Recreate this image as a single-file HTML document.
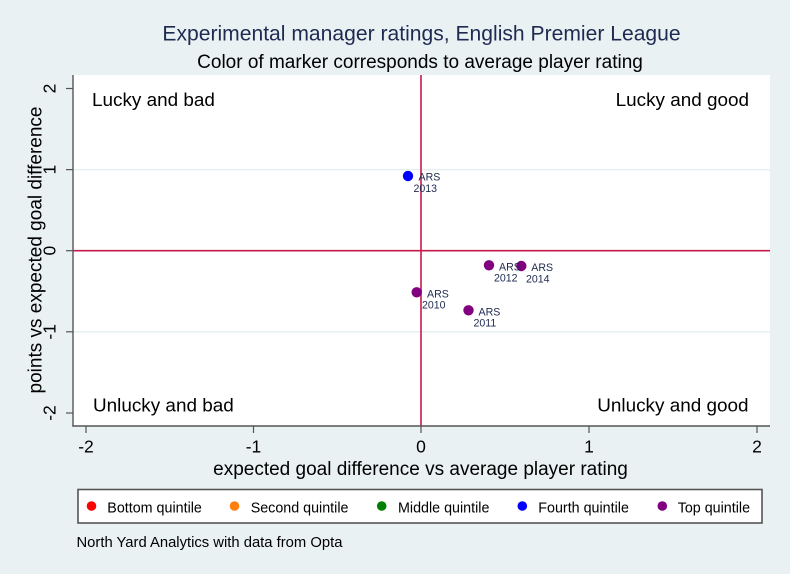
<!DOCTYPE html>
<html><head><meta charset="utf-8"><style>
html,body{margin:0;padding:0;background:#e9f1f3;}
svg{display:block;font-family:"Liberation Sans",Arial,sans-serif;}
text{font-family:"Liberation Sans",Arial,sans-serif;}
</style></head><body>
<svg width="790" height="574" viewBox="0 0 790 574" xmlns="http://www.w3.org/2000/svg">
<rect x="0" y="0" width="790" height="574" fill="#e9f1f3"/>
<!-- titles -->
<text x="421.5" y="40.5" text-anchor="middle" font-size="21.1" fill="#1e2a50">Experimental manager ratings, English Premier League</text>
<text x="420" y="68" text-anchor="middle" font-size="19" fill="#000">Color of marker corresponds to average player rating</text>
<!-- plot region -->
<rect x="73" y="75" width="697" height="351" fill="#fff"/>
<!-- gridlines -->
<line x1="73" y1="169.6" x2="770" y2="169.6" stroke="#e6eff1" stroke-width="1.5"/>
<line x1="73" y1="331.8" x2="770" y2="331.8" stroke="#e6eff1" stroke-width="1.5"/>
<!-- reference lines -->
<line x1="73" y1="250.7" x2="770" y2="250.7" stroke="#c8194b" stroke-width="1.6"/>
<line x1="421" y1="75" x2="421" y2="426" stroke="#c8194b" stroke-width="1.6"/>
<!-- axes -->
<line x1="73" y1="75" x2="73" y2="426.5" stroke="#555" stroke-width="1.4"/>
<line x1="72.3" y1="426" x2="770" y2="426" stroke="#555" stroke-width="1.4"/>
<!-- y ticks -->
<g stroke="#555" stroke-width="1.2">
<line x1="66" y1="88.5" x2="73" y2="88.5"/>
<line x1="66" y1="169.6" x2="73" y2="169.6"/>
<line x1="66" y1="250.7" x2="73" y2="250.7"/>
<line x1="66" y1="331.8" x2="73" y2="331.8"/>
<line x1="66" y1="413" x2="73" y2="413"/>
</g>
<g font-size="17.5" fill="#000" text-anchor="middle">
<text transform="translate(55.5,88.5) rotate(-90)">2</text>
<text transform="translate(55.5,169.6) rotate(-90)">1</text>
<text transform="translate(55.5,250.7) rotate(-90)">0</text>
<text transform="translate(55.5,331.8) rotate(-90)">-1</text>
<text transform="translate(55.5,413) rotate(-90)">-2</text>
</g>
<text transform="translate(41.5,250) rotate(-90)" text-anchor="middle" font-size="19" fill="#000">points vs expected goal difference</text>
<!-- x ticks -->
<g stroke="#555" stroke-width="1.2">
<line x1="86" y1="426" x2="86" y2="433"/>
<line x1="253.5" y1="426" x2="253.5" y2="433"/>
<line x1="421" y1="426" x2="421" y2="433"/>
<line x1="589" y1="426" x2="589" y2="433"/>
<line x1="757" y1="426" x2="757" y2="433"/>
</g>
<g font-size="17.5" fill="#000" text-anchor="middle">
<text x="86" y="452.5">-2</text>
<text x="253.5" y="452.5">-1</text>
<text x="421" y="452.5">0</text>
<text x="589" y="452.5">1</text>
<text x="757" y="452.5">2</text>
</g>
<text x="420.5" y="475" text-anchor="middle" font-size="19" fill="#000">expected goal difference vs average player rating</text>
<!-- quadrant labels -->
<g font-size="18.9" fill="#000">
<text x="92" y="106">Lucky and bad</text>
<text x="749" y="106" text-anchor="end">Lucky and good</text>
<text x="93" y="411.5">Unlucky and bad</text>
<text x="748.5" y="411.5" text-anchor="end">Unlucky and good</text>
</g>
<!-- points -->
<circle cx="408" cy="176" r="5.2" fill="#0000ff"/>
<circle cx="489" cy="265.3" r="5.2" fill="#800080"/>
<circle cx="521.3" cy="266" r="5.2" fill="#800080"/>
<circle cx="416.7" cy="292.3" r="5.2" fill="#800080"/>
<circle cx="468.5" cy="310.3" r="5.2" fill="#800080"/>
<g font-size="10.6" fill="#1e2a50" font-family="Liberation Sans, Arial, sans-serif">
<text x="418.5" y="180.7">ARS</text><text x="413.5" y="192.2">2013</text>
<text x="499" y="270.3">ARS</text><text x="494" y="281.7">2012</text>
<text x="531.3" y="271">ARS</text><text x="526" y="282.3">2014</text>
<text x="427" y="297.3">ARS</text><text x="422" y="308.7">2010</text>
<text x="478.5" y="315.3">ARS</text><text x="473.5" y="326.7">2011</text>
</g>
<!-- legend -->
<rect x="78" y="489.5" width="684" height="33.5" fill="#fff" stroke="#555" stroke-width="1.6"/>
<circle cx="91.5" cy="506" r="4.8" fill="#ff0000"/>
<circle cx="234.5" cy="506" r="4.8" fill="#ff7f0e"/>
<circle cx="381.7" cy="506" r="4.8" fill="#008000"/>
<circle cx="522.3" cy="506" r="4.8" fill="#0000ff"/>
<circle cx="662.3" cy="506" r="4.8" fill="#800080"/>
<g font-size="14.3" fill="#000">
<text x="107.3" y="512.5">Bottom quintile</text>
<text x="250.7" y="512.5">Second quintile</text>
<text x="398" y="512.5">Middle quintile</text>
<text x="538.3" y="512.5">Fourth quintile</text>
<text x="677.7" y="512.5">Top quintile</text>
</g>
<text x="76.5" y="547" font-size="14.8" fill="#000">North Yard Analytics with data from Opta</text>
</svg>
</body></html>
